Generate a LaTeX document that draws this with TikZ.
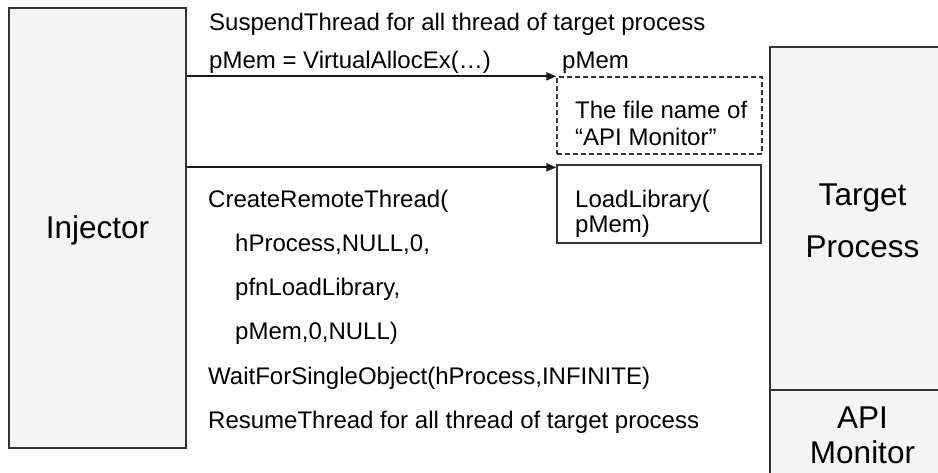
\documentclass[tikz,border=0pt]{standalone}
\usepackage{fontspec}
\setmainfont{Liberation Sans}
\usetikzlibrary{arrows.meta}
\definecolor{panelfill}{HTML}{F4F4F4}
\definecolor{edgecol}{HTML}{333333}
\definecolor{flowcol}{HTML}{1A1A1A}
\begin{document}
\begin{tikzpicture}[x=1pt,y=-1pt,
  panel/.style={draw=edgecol,line width=1.3pt,fill=panelfill,inner sep=0pt,rectangle},
  membox/.style={draw=edgecol,line width=1.3pt,fill=white,inner sep=0pt,rectangle},
  flow/.style={draw=flowcol,line width=2pt,-{Triangle[length=10pt,width=8pt]}},
  txt/.style={anchor=base west,inner sep=0pt,font=\fontsize{24}{28}\selectfont},
  big/.style={anchor=base,inner sep=0pt,font=\fontsize{31.5}{36}\selectfont}]
\useasboundingbox (0,0) rectangle (938,472);
\clip (0,0) rectangle (938,472);
\fill[white] (0,0) rectangle (938,472);

% process panels
\node[panel,minimum width=177pt,minimum height=440pt] (inj) at (97.5,228) {};
\node[panel,minimum width=185pt,minimum height=343pt] (tgt) at (862.5,218.5) {};
\node[panel,minimum width=185pt,minimum height=100pt] (mon) at (862.5,440) {};

% memory written into the target
\node[membox,dash pattern=on 5pt off 3pt,minimum width=205pt,minimum height=77pt] (mem) at (659.5,115.5) {};
\node[membox,minimum width=204pt,minimum height=78pt] (call) at (659,204) {};
\coordinate (callin) at ([yshift=-3pt]call.north west);

% calls from the injector
\draw[flow] (inj.east |- mem.north west) -- (mem.north west);
\draw[flow] (inj.east |- callin) -- (callin);

% panel captions
\node[big] (injlbl) at (97.5,238) {Injector};
\node[big] (tgt1) at (862.5,205) {Target};
\node[big] (tgt2) at (862.5,257) {Process};
\node[big] (mon1) at (862.5,428) {API};
\node[big] (mon2) at (862.5,463) {Monitor};

% API calls issued by the injector
\node[txt] (s1) at (209,30) {SuspendThread for all thread of target process};
\node[txt] (s2) at (209,68) {pMem = VirtualAllocEx(…)};
\node[txt] (c1) at (208,207) {CreateRemoteThread(};
\node[txt] (c2) at (235,251) {hProcess,NULL,0,};
\node[txt] (c3) at (235,295) {pfnLoadLibrary,};
\node[txt] (c4) at (235,339) {pMem,0,NULL)};
\node[txt] (w1) at (208,384) {WaitForSingleObject(hProcess,INFINITE)};
\node[txt] (r1) at (208,428) {ResumeThread for all thread of target process};

% contents of the target's memory
\node[txt] (pm) at (562,68) {pMem};
\node[txt] (m1) at (575,118) {The file name of};
\node[txt] (m2) at (575,145) {“API Monitor”};
\node[txt] (l1) at (575,207) {LoadLibrary(};
\node[txt] (l2) at (575,232) {pMem)};
\end{tikzpicture}
\end{document}
